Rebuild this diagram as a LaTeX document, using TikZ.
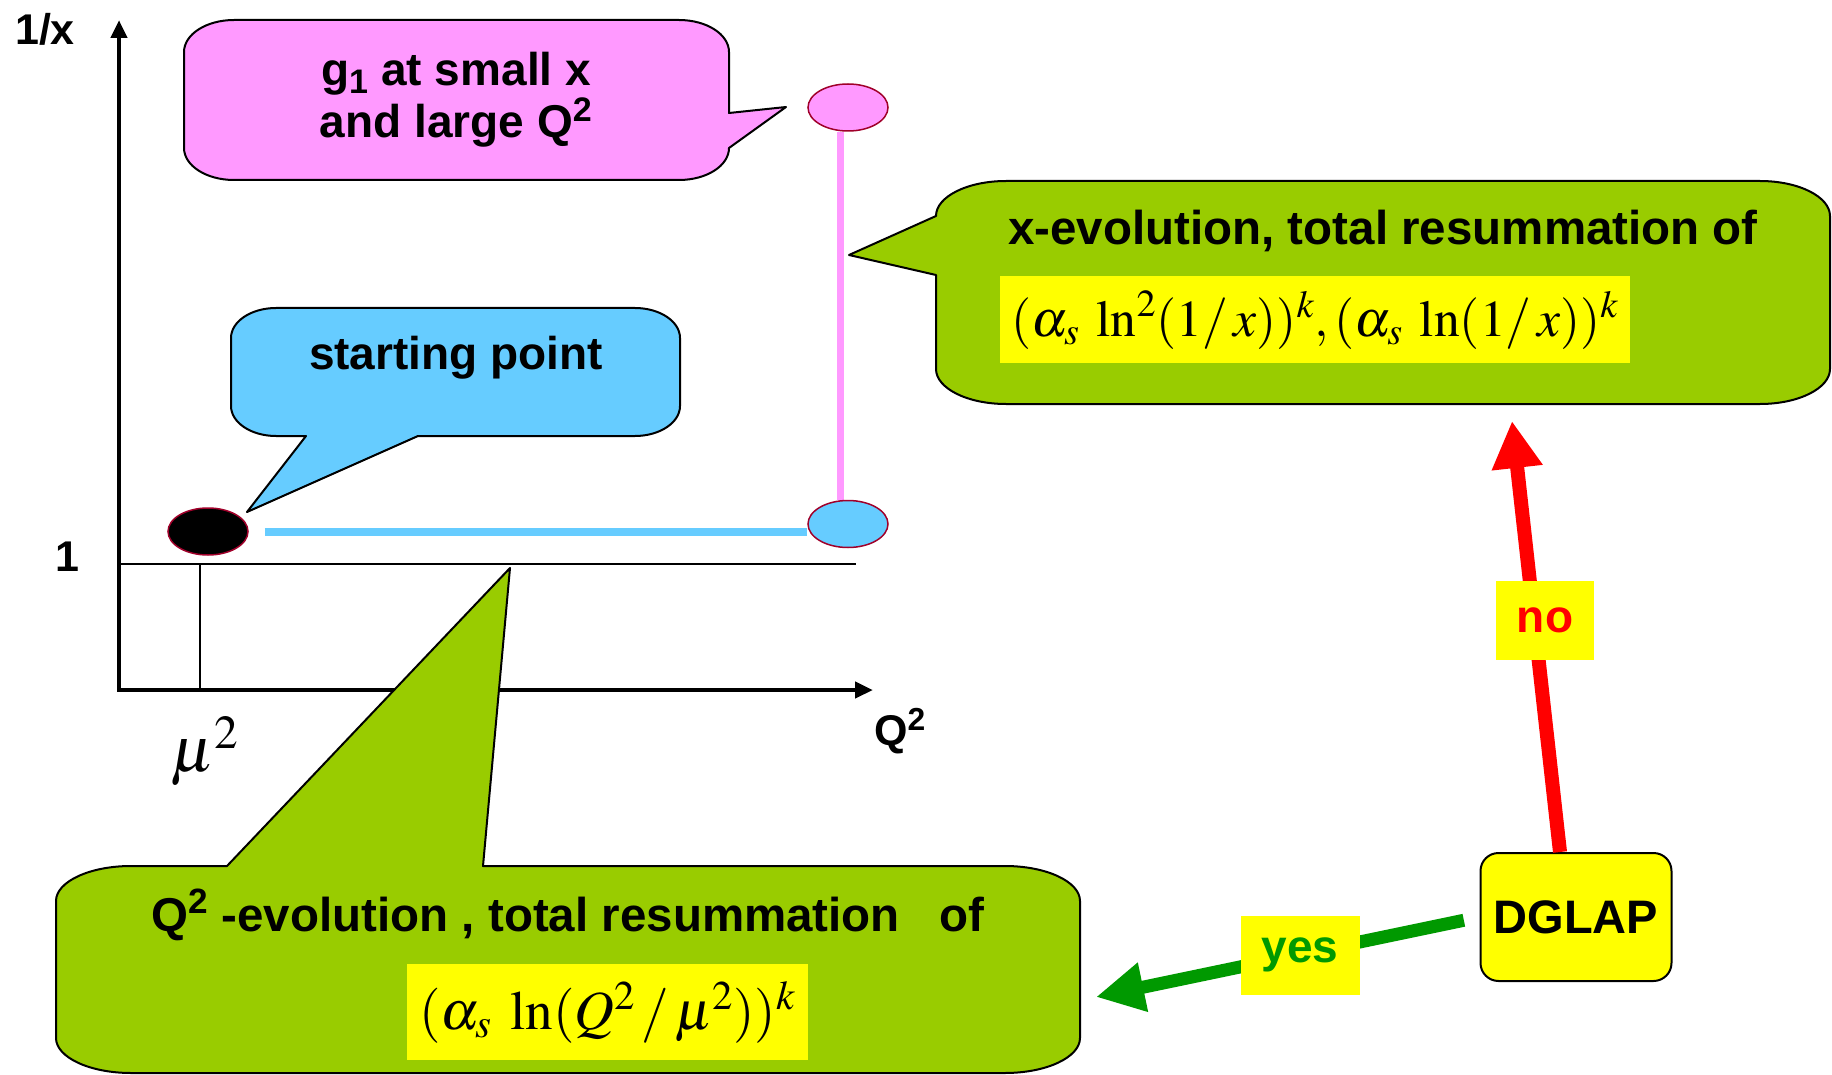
\documentclass[tikz,border=0pt]{standalone}
\usepackage{mathptmx}
\usepackage[no-math]{fontspec}
\usepackage{graphicx}
\newfontfamily\arial{Liberation Sans}
\usetikzlibrary{shapes.geometric,arrows.meta,calc,backgrounds}
\definecolor{pinkF}{HTML}{FF99FF}
\definecolor{blueF}{HTML}{66CCFF}
\definecolor{greenF}{HTML}{99CC00}
\definecolor{yel}{HTML}{FFFF00}
\definecolor{darkgreen}{HTML}{009900}
\definecolor{rim}{HTML}{A0002A}
\begin{document}
\begin{tikzpicture}[x=1pt,y=-1pt,
  callout/.style={draw=black,line width=2pt,line join=round},
  lbl/.style={font=\arial\bfseries\fontsize{46}{52}\selectfont,inner sep=0pt},
  glbl/.style={font=\arial\bfseries\fontsize{47.5}{52}\selectfont,inner sep=0pt},
  dot/.style={ellipse,draw=rim,line width=1.5pt,minimum width=80pt,minimum height=47pt,inner sep=0pt},
  ybox/.style={fill=yel,inner sep=0pt},
  mathf/.style={font=\fontsize{64}{70}\selectfont,inner sep=0pt}]
\useasboundingbox (0,0) rectangle (1832,1075);
\begin{scope}[on background layer]
\fill[white] (0,0) rectangle (1832,1075);
\end{scope}

% axes
\coordinate (O) at (119,690);
\coordinate (Ytop) at (119,20);
\coordinate (Xend) at (873,690);
\draw[line width=4.5pt,line join=miter,{Triangle[length=18pt,width=16pt]}-{Triangle[length=18pt,width=16pt]}] (Ytop) -- (O) -- (Xend);
\coordinate (one) at (119,564);
\coordinate (oneEnd) at (856,564);
\draw[line width=1.8pt] (one) -- (oneEnd);
\coordinate (muT) at (200,564);
\draw[line width=1.4pt] (muT) -- (muT |- O);

\node[lbl,font=\arial\bfseries\fontsize{43}{48}\selectfont] (ylab) at (45,29) {1/x};
\node[lbl,font=\arial\bfseries\fontsize{43}{48}\selectfont] (onelab) at (67,557) {1};
\node[lbl,font=\arial\bfseries\fontsize{43}{48}\selectfont] (xlab) at (900,731) {Q\textsuperscript{2}};
\node[mathf] (mulab) at (205,751) {$\mu^2$};

% pink callout
\filldraw[callout,fill=pinkF] (234,20) -- (679,20) .. controls (706.6,20) and (729,34.3) .. (729,52) -- (729,113) -- (786,107) -- (729,148) .. controls (729,165.7) and (706.6,180) .. (679,180) -- (234,180) .. controls (206.4,180) and (184,165.7) .. (184,148) -- (184,52) .. controls (184,34.3) and (206.4,20) .. (234,20) -- cycle;
\node[lbl,align=center] (gtext) at (456,100) {g\textsubscript{1} at small x\\and large Q\textsuperscript{2}};

% blue callout
\filldraw[callout,fill=blueF] (276,308) -- (635,308) .. controls (659.8,308) and (680,321.4) .. (680,338) -- (680,406) .. controls (680,422.6) and (659.8,436) .. (635,436) -- (418,436) -- (247,512) -- (306,436) -- (276,436) .. controls (251.2,436) and (231,422.6) .. (231,406) -- (231,338) .. controls (231,321.4) and (251.2,308) .. (276,308) -- cycle;
\node[lbl,anchor=base] (stext) at (456,370) {starting point};

% right green callout
\filldraw[callout,fill=greenF] (1006,181) -- (1760,181) .. controls (1798.6,181) and (1830,196.7) .. (1830,216) -- (1830,369) .. controls (1830,388.3) and (1798.6,404) .. (1760,404) -- (1006,404) .. controls (967.4,404) and (936,388.3) .. (936,369) -- (936,275) -- (849,255) -- (936,216) .. controls (936,196.7) and (967.4,181) .. (1006,181) -- cycle;
\node[glbl,anchor=base] (xtext) at (1383,245) {x-evolution, total resummation of};
\node[ybox,minimum width=630pt,minimum height=87pt] (f1) at (1315,320) {};
\node[mathf] (f1m) at (f1) {\resizebox{607pt}{!}{$(\alpha_s\;\ln^2(1/\,x))^k,(\alpha_s\;\ln(1/\,x))^k$}};

% bottom green callout
\filldraw[callout,fill=greenF] (131,866) -- (227,866) -- (510,568) -- (483,866) -- (1005,866) .. controls (1046.4,866) and (1080,881.7) .. (1080,901) -- (1080,1038) .. controls (1080,1057.3) and (1046.4,1073) .. (1005,1073) -- (131,1073) .. controls (89.6,1073) and (56,1057.3) .. (56,1038) -- (56,901) .. controls (56,881.7) and (89.6,866) .. (131,866) -- cycle;
\node[glbl,anchor=base] (qtext) at (568,931) {Q\textsuperscript{2} -evolution , total resummation\ \ \ of};
\node[ybox,minimum width=401pt,minimum height=96pt] (f2) at (607.5,1012) {};
\node[mathf] (f2m) at (f2) {\resizebox{376pt}{!}{$(\alpha_s\;\ln(Q^2\,/\,\mu^2))^k$}};

% points
\node[dot,fill=black] (start) at (208,531.5) {};
\node[dot,fill=blueF] (mid) at (848,524) {};
\node[dot,fill=pinkF] (top) at (848,107.5) {};
\begin{scope}[on background layer]
\draw[blueF,line width=8pt,shorten <=16pt] (start.east) -- (start.east -| mid.west);
\draw[pinkF,line width=7pt] ($(top.south)+(-8,0)$) -- ($(mid.north)+(-8,0)$);
\end{scope}

% DGLAP decision
\node[lbl,draw=black,line width=2pt,fill=yel,rounded corners=18pt,minimum width=191pt,minimum height=128pt,font=\arial\bfseries\fontsize{47}{52}\selectfont] (dglap) at (1576,917) {DGLAP};
\coordinate (noEnd) at (1512,421);
\coordinate (yesEnd) at (1096,997);
\draw[red,line width=14pt,-{Triangle[length=47pt,width=48pt]}] ($(dglap.north)+(-16,0)$) -- (noEnd);
\draw[darkgreen,line width=13pt,shorten <=16pt,-{Triangle[length=48pt,width=47pt]}] (dglap.west) -- (yesEnd);
\node[lbl,fill=yel,text=red,minimum width=98pt,minimum height=79pt] (nolab) at (1545,620) {no};
\node[lbl,fill=yel,text=darkgreen,minimum width=119pt,minimum height=79pt] (yeslab) at (1300,955) {yes};
\end{tikzpicture}
\end{document}
